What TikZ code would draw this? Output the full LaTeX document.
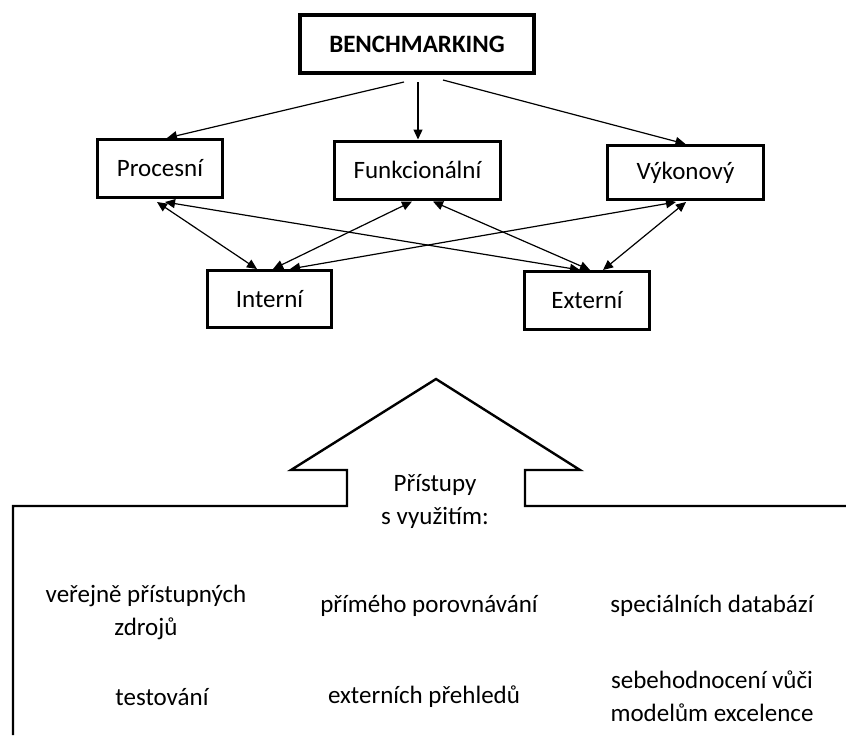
\documentclass[tikz,border=0pt]{standalone}
\usepackage{fontspec}
\setmainfont{Carlito}
\usepackage{tikz}
\usetikzlibrary{arrows.meta, positioning, calc}
\tikzset{
  kbox/.style={draw=black, line width=1.5pt, align=center, inner sep=0pt,
    minimum height=29pt, minimum width=62.5pt, font=\fontsize{12.5}{15}\selectfont},
  rootbox/.style={draw=black, line width=2pt, align=center, inner sep=0pt,
    minimum height=29pt, minimum width=117pt, font=\fontsize{12.5}{15}\selectfont\bfseries},
  flow/.style={-{Triangle[length=5pt, width=4.5pt]}, draw=black, line width=0.6pt},
  link/.style={{Triangle[length=5pt, width=4.5pt]}-{Triangle[length=5pt, width=4.5pt]}, draw=black, line width=0.6pt},
  note/.style={align=center, inner sep=0pt, font=\fontsize{12.5}{16.5}\selectfont}
}
\begin{document}
\begin{tikzpicture}[x=0.5pt, y=-0.5pt]
\useasboundingbox (0,0) rectangle (846,735);
% types of benchmarking
\node[rootbox] (bench) at (417,44) {BENCHMARKING};
\node[kbox] (proc) at (160,168.5) {Procesní};
\node[kbox, minimum width=83pt] (func) at (417.5,170) {Funkcionální};
\node[kbox, minimum width=78pt, minimum height=27pt] (vyk) at (685.5,172.5) {Výkonový};
\node[kbox, minimum width=62pt, minimum height=28.5pt] (int) at (269.5,299) {Interní};
\node[kbox] (ext) at (587,300.5) {Externí};
\draw[flow] ($(bench.south)+(-13,7)$) -- ($(proc.north)+(7,0)$);
\draw[flow] ($(bench.south)+(1,7)$) -- ($(func.north)+(0.5,0)$);
\draw[flow] ($(bench.south)+(26,5)$) -- (vyk.north);
\draw[link] ($(proc.south)+(-3,3)$) -- ($(int.north)+(-12.5,0)$);
\draw[link] ($(proc.south)+(5,3)$) -- ($(ext.north)+(-7,0)$);
\draw[link] ($(func.south)+(-5.5,1)$) -- ($(int.north)+(3.5,0)$);
\draw[link] ($(func.south)+(15.5,1)$) -- ($(ext.north)+(3,0)$);
\draw[link] ($(vyk.south)+(-9.5,1)$) -- ($(int.north)+(20.5,0)$);
\draw[link] ($(vyk.south)+(0.5,1)$) -- ($(ext.north)+(16,0)$);
% approaches
\draw[line width=1.2pt, line join=miter] (13,735) -- (13,506) -- (347,506) -- (347,470) -- (291,470)
  -- (436,379) -- (580,470) -- (525,470) -- (525,506) -- (846,506);
\node[note] (appr) at (435,501) {Přístupy\\s využitím:};
\node[note] (public) at (146,612) {veřejně přístupných\\zdrojů};
\node[note] (direct) at (429,606) {přímého porovnávání};
\node[note] (dbase) at (712,606) {speciálních databází};
\node[note] (test) at (162,697) {testování};
\node[note] (review) at (424,697) {externích přehledů};
\node[note] (self) at (712,696) {sebehodnocení vůči\\modelům excelence};
\end{tikzpicture}
\end{document}
